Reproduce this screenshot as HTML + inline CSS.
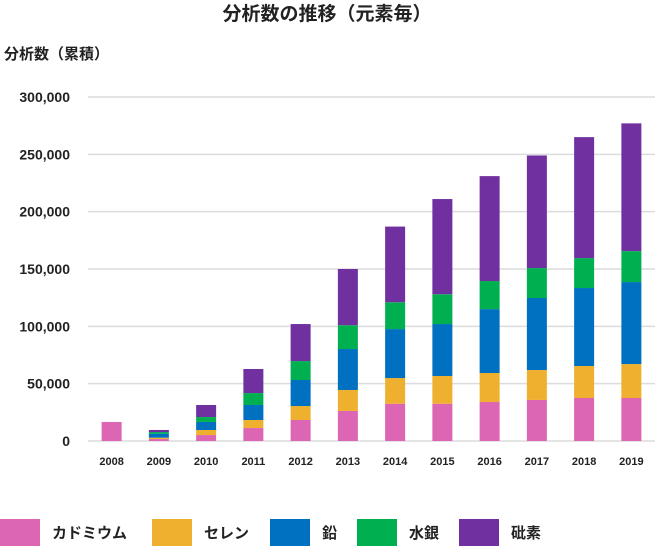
<!DOCTYPE html>
<html><head><meta charset="utf-8">
<style>
body{margin:0;background:#fff;font-family:"Liberation Sans","Noto Sans CJK JP",sans-serif;}
#wrap{position:relative;width:655px;height:546px;overflow:hidden;}
</style></head>
<body>
<div id="wrap">
<svg id="chart" width="655" height="546" xmlns="http://www.w3.org/2000/svg">
<text x="327" y="20" text-anchor="middle" font-size="19" font-weight="bold" fill="#222" font-family="Liberation Sans, Noto Sans CJK JP, sans-serif">分析数の推移（元素毎）</text>
<text x="4" y="59" font-size="15" font-weight="bold" fill="#222" font-family="Liberation Sans, Noto Sans CJK JP, sans-serif">分析数（累積）</text>
<g id="grid"></g><g id="bars"></g><g id="labels"></g><g id="legend"></g>
</svg>
</div>
<script>
const years=["2008","2009","2010","2011","2012","2013","2014","2015","2016","2017","2018","2019"];
const cadmium=[16600,1700,5200,11300,18300,26200,32500,32500,34000,35800,37500,37500];
const selenium=[0,1200,4400,7000,12200,18300,22400,24200,25300,26100,27900,29600];
const lead=[0,3500,7000,13100,22700,35700,42700,45300,55700,62800,68000,71500];
const mercury=[0,1400,4300,10400,16500,20800,23400,26000,24500,26100,26100,27000];
const arsenic=[0,1800,10500,21000,32300,49000,66000,83000,91500,98200,105500,111400];
const yTicks=[0,50000,100000,150000,200000,250000,300000];
const yTickLabels=["0","50,000","100,000","150,000","200,000","250,000","300,000"];
const seriesNames=["カドミウム","セレン","鉛","水銀","砒素"];
const seriesKeys=["cadmium","selenium","lead","mercury","arsenic"];
const colors=["#dd66b4","#efb02f","#0070c0","#00b050","#7030a0"];
const series=[cadmium,selenium,lead,mercury,arsenic];
const NS="http://www.w3.org/2000/svg";
const x0=88,x1=655,y0=441,yTop=97,maxV=300000;
const band=(x1-x0)/years.length;
const yS=v=>y0-(v/maxV)*(y0-yTop);
const xC=i=>x0+band*(i+0.5);
const barW=20;
function mk(t,a){const e=document.createElementNS(NS,t);for(const k in a)e.setAttribute(k,a[k]);return e;}
const grid=document.getElementById('grid');
yTicks.forEach((v,i)=>{
  const l=mk('line',{x1:x0,x2:x1,y1:yS(v),y2:yS(v),stroke:'#dcdcdc','stroke-width':1.5});
  
  
  grid.appendChild(l);
  const t=mk('text',{x:70,y:yS(v)+5,'text-anchor':'end','font-size':14,'font-weight':'bold',fill:'#222'});
  t.textContent=yTickLabels[i];
  
  
  grid.appendChild(t);
});
const bars=document.getElementById('bars');
years.forEach((yr,i)=>{
  let cum=0;
  series.forEach((s,k)=>{
    const v=s[i];if(v<=0)return;
    const r=mk('rect',{x:xC(i)-barW/2,y:yS(cum+v),width:barW,height:yS(cum)-yS(cum+v),fill:colors[k]});
    
    
    bars.appendChild(r);cum+=v;
  });
  const t=mk('text',{x:xC(i),y:465,'text-anchor':'middle','font-size':11,'font-weight':'bold',fill:'#222'});
  t.textContent=yr;
  
  
  document.getElementById('labels').appendChild(t);
});
const lg=document.getElementById('legend');
const lx=[0,152,270,357,459];
seriesNames.forEach((n,k)=>{
  const g=mk('g',{});
  
  
  g.appendChild(mk('rect',{x:lx[k],y:519,width:40,height:27,fill:colors[k]}));
  const t=mk('text',{x:lx[k]+52,y:538,'font-size':15,'font-weight':'bold',fill:'#222'});
  t.textContent=n;g.appendChild(t);lg.appendChild(g);
});
</script>
</body></html>
